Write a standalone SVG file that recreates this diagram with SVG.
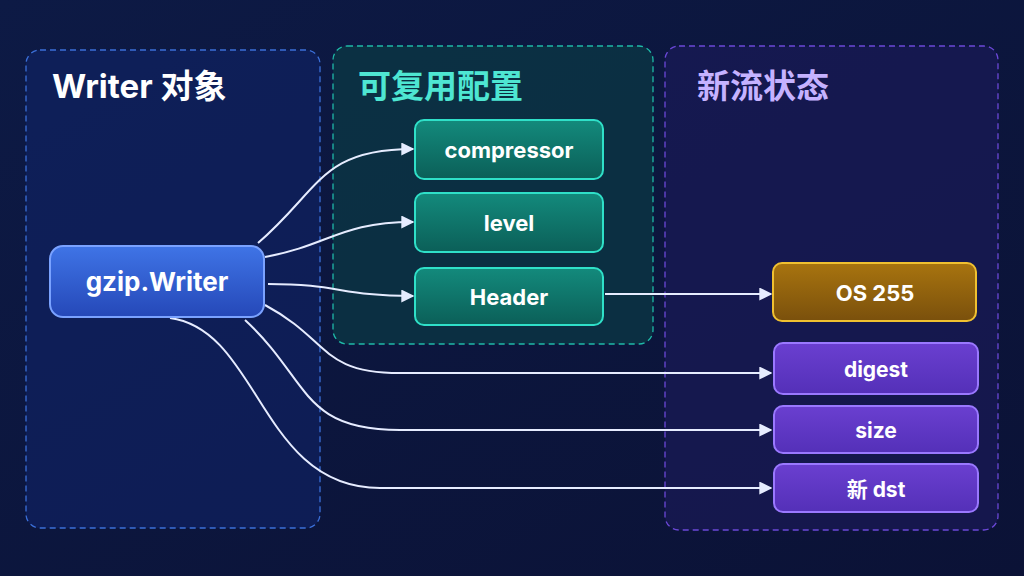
<svg xmlns="http://www.w3.org/2000/svg" width="1024" height="576" viewBox="0 0 1024 576">
<defs>
<linearGradient id="bg" x1="0" y1="0" x2="1" y2="1"><stop offset="0" stop-color="#0d1a45"/><stop offset="1" stop-color="#0b1236"/></linearGradient>
<linearGradient id="gb" x1="0" y1="0" x2="0" y2="1"><stop offset="0" stop-color="#3f74e6"/><stop offset="1" stop-color="#2548b8"/></linearGradient>
<linearGradient id="gt" x1="0" y1="0" x2="0" y2="1"><stop offset="0" stop-color="#138a7c"/><stop offset="1" stop-color="#0b5f58"/></linearGradient>
<linearGradient id="go" x1="0" y1="0" x2="0" y2="1"><stop offset="0" stop-color="#a8740f"/><stop offset="1" stop-color="#7a500c"/></linearGradient>
<linearGradient id="gp" x1="0" y1="0" x2="0" y2="1"><stop offset="0" stop-color="#6a3fd0"/><stop offset="1" stop-color="#5430b8"/></linearGradient>
<marker id="ah" viewBox="0 0 10 10" refX="9" refY="5" markerWidth="13" markerHeight="13" orient="auto" markerUnits="userSpaceOnUse"><path d="M0,0 L10,5 L0,10 z" fill="#e6ecff"/></marker>
<style>
.t{font-family:"Inter","Noto Sans CJK SC",sans-serif;font-weight:700;fill:#fff;text-anchor:middle;dominant-baseline:central}
.h{font-family:"Inter","Noto Sans CJK SC",sans-serif;font-weight:700;font-size:33px}
.c{fill:none;stroke:#e6ecff;stroke-width:2;marker-end:url(#ah)}
</style>
</defs>
<rect width="1024" height="576" fill="url(#bg)"/>
<g id="panel-writer"><rect x="26" y="50" width="294" height="478" rx="14" fill="#11246a" fill-opacity="0.55" stroke="#3b6fd8" stroke-dasharray="6 4" stroke-width="1.3"/><text x="52" y="86" class="h" fill="#ffffff" dominant-baseline="central">Writer 对象</text></g>
<g id="panel-config"><rect x="333" y="46" width="320" height="298" rx="14" fill="#0c3a45" fill-opacity="0.7" stroke="#1fb9a8" stroke-dasharray="6 4" stroke-width="1.3"/><text x="358" y="86" class="h" fill="#4ee6d2" dominant-baseline="central">可复用配置</text></g>
<g id="panel-state"><rect x="665" y="46" width="333" height="484" rx="14" fill="#1c1a5c" fill-opacity="0.6" stroke="#6b48d8" stroke-dasharray="6 4" stroke-width="1.3"/><text x="697" y="86" class="h" fill="#c5b2ff" dominant-baseline="central">新流状态</text></g>
<g id="connectors">
<path class="c" d="M258,243 C320,190 320,149 413,149"/>
<path class="c" d="M265,257 C330,245 340,222 413,222"/>
<path class="c" d="M268,284 C340,284 340,296 413,296"/>
<path class="c" d="M605,294 L771,294"/>
<path class="c" d="M265,305 C330,340 320,373 400,373 L771,373"/>
<path class="c" d="M245,320 C310,380 300,430 400,430 L771,430"/>
<path class="c" d="M170,318 C260,330 260,488 380,488 L771,488"/>
</g>
<g id="n-gzip"><rect x="50" y="246" width="214" height="71" rx="13" fill="url(#gb)" stroke="#7aa2ff" stroke-width="2"/><text x="157" y="281" class="t" font-size="26">gzip.Writer</text></g>
<g id="n-compressor"><rect x="415" y="120" width="188" height="59" rx="9" fill="url(#gt)" stroke="#2fe0c8" stroke-width="2"/><text x="509" y="150" class="t" font-size="22">compressor</text></g>
<g id="n-level"><rect x="415" y="193" width="188" height="59" rx="9" fill="url(#gt)" stroke="#2fe0c8" stroke-width="2"/><text x="509" y="223" class="t" font-size="22">level</text></g>
<g id="n-header"><rect x="415" y="268" width="188" height="57" rx="9" fill="url(#gt)" stroke="#2fe0c8" stroke-width="2"/><text x="509" y="297" class="t" font-size="22">Header</text></g>
<g id="n-os"><rect x="773" y="263" width="203" height="58" rx="9" fill="url(#go)" stroke="#f0c030" stroke-width="2"/><text x="875" y="293" class="t" font-size="22">OS 255</text></g>
<g id="n-digest"><rect x="774" y="343" width="204" height="51" rx="9" fill="url(#gp)" stroke="#9a78ff" stroke-width="2"/><text x="876" y="369" class="t" font-size="21">digest</text></g>
<g id="n-size"><rect x="774" y="406" width="204" height="47" rx="9" fill="url(#gp)" stroke="#9a78ff" stroke-width="2"/><text x="876" y="430" class="t" font-size="21">size</text></g>
<g id="n-dst"><rect x="774" y="464" width="204" height="48" rx="9" fill="url(#gp)" stroke="#9a78ff" stroke-width="2"/><text x="876" y="489" class="t" font-size="21">新 dst</text></g>
</svg>
